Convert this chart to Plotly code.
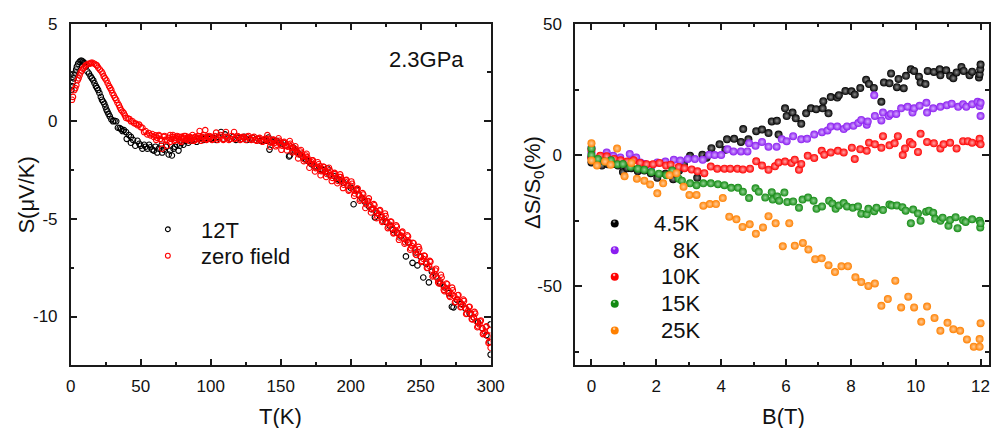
import plotly.graph_objects as go

# ---------------- Left panel: S(T) ----------------
t12_T = [0.5, 0.9, 1.5, 2.1, 2.7, 3.3, 3.9, 4.4, 5.3, 6.3, 7.1, 7.9, 8.8, 9.6, 10.8, 11.9, 13.0, 14.2, 15.1, 16.1,
         17.0, 18.0, 18.8, 19.6, 20.5, 21.5, 22.3, 23.2, 24.0, 24.8, 25.5, 26.2, 27.0, 27.9, 29.0, 30.2, 31.3, 32.5,
         33.7, 35.0, 36.0, 37.0, 38.0, 39.5, 40.0, 41.5, 43.0, 43.0, 44.5, 46.1, 47.7, 49.0, 50.0, 51.2, 52.5, 53.5,
         54.7, 56.0, 57.0, 58.2, 59.4, 60.5, 61.8, 63.0, 64.8, 65.3, 66.5, 68.0, 70.0, 71.0, 72.3, 73.5, 74.5, 75.8,
         77.0, 78.0, 79.3, 80.5, 82.0, 84.0, 86.3, 88.0, 90.0, 91.5, 93.3, 95.0, 96.5, 98.0, 100.0, 102.0, 104.0,
         105.5, 107.4, 109.0, 110.2, 112.0, 114.0, 116.0, 118.0, 120.0, 122.0, 124.0, 126.0, 128.0, 130.0, 132.0,
         134.0, 136.0, 138.0, 140.0, 141.3, 142.0, 144.0, 145.5, 147.1, 149.0, 150.5, 151.8, 153.5, 156.0, 156.5,
         158.8, 160.0, 162.0, 164.0, 166.0, 168.0, 170.0, 172.0, 174.0, 176.0, 178.0, 180.0, 182.0, 183.4, 185.0,
         188.0, 190.0, 192.0, 195.0, 198.0, 200.0, 202.1, 204.4, 206.0, 208.0, 210.0, 213.0, 215.0, 217.3, 219.0,
         222.0, 225.0, 228.0, 230.0, 233.0, 236.0, 239.5, 241.0, 244.2, 246.5, 247.7, 250.0, 251.9, 254.0, 255.9,
         258.0, 261.0, 264.0, 267.0, 270.0, 272.3, 273.5, 276.0, 279.0, 282.0, 285.0, 288.0, 291.0, 294.0, 297.0,
         299.9, 300.0, 300.0]
t12_S = [1.6, 1.8, 2.0, 2.2, 2.35, 2.5, 2.65, 2.8, 2.95, 3.05, 3.1, 3.1, 3.05, 3.0, 2.8, 2.55, 2.45, 2.3, 2.2, 2.1,
         1.95, 1.8, 1.7, 1.6, 1.45, 1.25, 1.1, 1.0, 0.9, 0.75, 0.6, 0.5, 0.38, 0.25, 0.1, 0.0, 0.02, 0.0,
         -0.33, -0.35, -0.4, -0.5, -0.45, -0.55, -0.9, -0.7, -0.8, -1.1, -0.95, -1.25, -1.0, -1.15, -1.25, -1.4, -1.2, -1.3,
         -1.4, -1.2, -1.33, -1.45, -1.5, -1.3, -1.6, -1.4, -1.25, -1.6, -1.45, -1.3, -1.7, -1.5, -1.75, -1.4, -1.3, -1.2,
         -1.5, -1.25, -1.1, -1.2, -1.0, -1.1, -1.0, -0.95, -1.05, -0.9, -0.83, -0.95, -0.85, -0.8, -0.9, -0.85, -0.95,
         -0.8, -0.55, -0.9, -0.67, -0.85, -0.9, -0.8, -0.95, -0.85, -0.9, -0.8, -0.95, -0.9, -0.85, -0.95,
         -0.9, -1.0, -0.95, -1.0, -0.83, -1.45, -1.05, -1.0, -1.0, -1.1, -1.15, -1.1, -1.25, -1.8, -1.75,
         -1.33, -1.5, -1.6, -1.7, -1.85, -1.95, -2.05, -2.2, -2.3, -2.35, -2.45, -2.5, -2.6, -2.42, -2.75,
         -2.8, -2.95, -3.0, -3.15, -3.3, -3.4, -4.25, -3.5, -3.8, -3.95, -4.1, -4.35, -4.5, -4.92, -4.7,
         -4.9, -5.15, -5.35, -5.55, -5.7, -5.9, -6.92, -6.2, -7.25, -6.72, -7.38, -6.95, -8.0, -7.3, -8.25,
         -7.7, -7.95, -8.3, -8.5, -8.8, -9.5, -9.53, -9.15, -9.35, -9.6, -9.85, -10.05, -10.3, -10.6, -10.95,
         -10.4, -11.95, -11.3]

zf_T = [0.9, 1.6, 2.6, 3.3, 4.0, 4.9, 5.6, 6.3, 7.1, 7.9, 8.7, 9.6, 10.5, 11.5, 12.6, 13.8, 14.6, 15.6, 16.8, 18.0,
        18.8, 19.6, 20.8, 22.0, 22.8, 23.6, 24.5, 25.5, 26.4, 27.4, 28.2, 29.0, 29.8, 30.7, 31.6, 32.5, 33.4, 34.4,
        35.2, 36.0, 37.0, 37.9, 38.7, 39.5, 40.7, 41.9, 43.0, 44.2, 45.3, 46.5, 47.7, 48.9, 50.0, 51.2, 52.4, 53.5,
        54.7, 55.8, 57.0, 58.2, 59.4, 60.6, 61.8, 63.0, 64.0, 65.3, 66.5, 67.5, 68.8, 70.0, 71.0, 72.0, 73.0, 74.0,
        75.0, 76.0, 77.0, 78.0, 79.0, 80.0, 81.0, 82.0, 83.0, 84.0, 85.0, 86.0, 87.0, 88.0, 89.0, 90.0, 91.0, 92.1,
        93.0, 94.0, 95.0, 96.1, 97.0, 98.0, 99.0, 100.0, 102.0, 103.9, 105.0, 107.0, 109.0, 110.9, 112.0, 114.0,
        116.7, 118.0, 120.0, 122.0, 124.0, 126.0, 128.0, 130.0, 132.0, 134.0, 136.0, 138.0,
        140.0, 141.0, 142.0, 143.0, 144.0, 145.0, 146.0, 147.0, 148.0, 149.0, 150.0, 151.0, 152.0, 153.0, 154.0,
        155.0, 156.0, 157.0, 158.0, 159.0, 160.0, 161.0, 162.0, 163.0, 164.0, 165.0, 166.0, 167.0, 168.0, 169.0,
        170.0, 171.0, 172.0, 173.0, 174.0, 175.0, 176.0, 177.0, 178.0, 179.0, 180.0, 181.0, 182.0, 183.0, 184.0,
        185.0, 186.0, 187.0, 188.0, 189.0, 190.0, 191.0, 192.0, 193.0, 194.0, 195.0, 196.0, 197.0, 198.0, 199.0,
        200.0, 201.0, 202.0, 203.0, 204.0, 205.0, 206.0, 207.0, 208.0, 209.0, 210.0, 211.0, 212.0, 213.0, 214.0,
        215.0, 216.0, 217.0, 218.0, 219.0, 220.0, 221.0, 222.0, 223.0, 224.0, 225.0, 226.0, 227.0, 228.0, 229.0,
        230.0, 231.0, 232.0, 233.0, 234.0, 235.0, 236.0, 237.0, 238.0, 239.0, 240.0, 241.0, 242.0, 243.0, 244.0,
        245.0, 246.0, 247.0, 248.0, 249.0, 250.0, 251.0, 252.0, 253.0, 254.0, 255.0, 256.0, 257.0, 258.0, 259.0,
        260.0, 261.0, 262.0, 263.0, 264.0, 265.0, 266.0, 267.0, 268.0, 269.0, 270.0, 271.0, 272.0, 273.0, 274.0,
        275.0, 276.0, 277.0, 278.0, 279.0, 280.0, 281.0, 282.0, 283.0, 284.0, 285.0, 286.0, 287.0, 288.0, 289.0,
        290.0, 291.0, 292.0, 293.0, 294.0, 295.0, 296.0, 297.0, 298.0, 299.0, 299.5, 300.0,
        61.0, 63.0, 65.0, 67.0, 69.0, 71.0, 73.0, 75.0, 77.0, 79.0, 81.0, 83.0, 85.0, 87.0, 89.0, 91.0, 93.0, 95.0,
        97.0, 99.0, 101.0, 103.0, 105.0, 107.0, 109.0, 111.0, 113.0, 115.0, 117.0, 119.0, 121.0, 123.0, 125.0,
        127.0, 129.0, 131.0, 133.0, 135.0, 137.0, 139.0,
        140.5, 142.5, 144.5, 146.5, 148.5, 150.5, 152.5, 154.5, 156.5, 158.5, 160.5, 162.5, 164.5, 166.5, 168.5,
        170.5, 172.5, 174.5, 176.5, 178.5, 180.5, 182.5, 184.5, 186.5, 188.5, 190.5, 192.5, 194.5, 196.5, 198.5,
        200.5, 202.5, 204.5, 206.5, 208.5, 210.5, 212.5, 214.5, 216.5, 218.5, 220.5, 222.5, 224.5, 226.5, 228.5,
        230.5, 232.5, 234.5, 236.5, 238.5, 240.5, 242.5, 244.5, 246.5, 248.5, 250.5, 252.5, 254.5, 256.5, 258.5,
        260.5, 262.5, 264.5, 266.5, 268.5, 270.5, 272.5, 274.5, 276.5, 278.5, 280.5, 282.5, 284.5, 286.5, 288.5,
        290.5, 292.5, 294.5, 296.5, 298.5]
zf_S = [1.1, 1.25, 1.6, 1.7, 1.85, 2.1, 2.2, 2.35, 2.5, 2.6, 2.7, 2.75, 2.85, 2.9, 2.95, 2.95, 3.0, 3.0, 2.95, 2.9,
        2.85, 2.75, 2.65, 2.55, 2.45, 2.3, 2.2, 2.1, 1.95, 1.8, 1.7, 1.6, 1.45, 1.33, 1.2, 1.1, 0.95, 0.83,
        0.7, 0.58, 0.5, 0.42, 0.3, 0.17, 0.15, 0.12, 0.0, 0.0, -0.1, -0.12, -0.2, -0.17, -0.3, -0.33, -0.55, -0.5,
        -0.67, -0.6, -0.72, -0.65, -0.8, -0.72, -0.85, -0.75, -0.9, -1.4, -0.8, -0.95, -1.25, -0.85, -0.7, -0.9, -0.8, -1.0,
        -0.85, -0.75, -0.9, -1.0, -0.8, -0.9, -0.85, -0.75, -0.95, -0.85, -0.8, -0.9, -0.85, -1.0, -0.8, -0.9, -0.85, -0.5,
        -0.9, -0.8, -0.85, -0.45, -0.9, -0.8, -0.85, -0.8, -0.9, -0.58, -0.85, -0.8, -0.9, -0.55, -0.85, -0.9,
        -0.55, -0.85, -0.8, -0.9, -0.85, -0.8, -0.9, -0.85, -0.95, -0.9, -0.95, -1.0,
        -0.95, -0.9, -1.05, -1.1, -1.0, -0.95, -1.1, -1.2, -1.05, -1.0, -1.15, -1.25, -1.1, -1.1, -1.25,
        -1.3, -1.2, -1.15, -1.35, -1.5, -1.4, -1.45, -1.6, -1.7, -1.55, -1.65, -1.8, -1.95, -1.75, -1.85,
        -2.0, -2.15, -2.1, -2.0, -2.2, -2.4, -2.35, -2.2, -2.3, -2.55, -2.45, -2.35, -2.55, -2.7, -2.6,
        -2.5, -2.75, -2.9, -2.7, -2.7, -2.9, -3.05, -2.85, -2.85, -3.05, -3.25, -3.1, -3.0, -3.25, -3.5,
        -3.3, -3.2, -3.5, -3.7, -3.55, -3.45, -3.75, -4.0, -3.9, -3.75, -4.05, -4.25, -4.1, -3.95, -4.3,
        -4.5, -4.45, -4.3, -4.6, -4.85, -4.75, -4.55, -4.8, -5.1, -5.0, -4.85, -5.15, -5.4, -5.3, -5.15,
        -5.5, -5.7, -5.6, -5.4, -5.75, -5.95, -5.85, -5.65, -6.0, -6.2, -6.1, -5.9, -6.2, -6.5, -6.4,
        -6.25, -6.55, -6.85, -6.7, -6.55, -6.9, -7.15, -7.05, -6.9, -7.2, -7.5, -7.4, -7.2, -7.6, -7.9,
        -7.85, -7.55, -8.05, -8.3, -8.2, -8.0, -8.4, -8.7, -8.55, -8.35, -8.7, -9.0, -8.85, -8.65, -8.95,
        -9.25, -9.1, -8.9, -9.25, -9.5, -9.4, -9.2, -9.55, -9.85, -9.7, -9.5, -9.85, -10.15, -10.05, -9.85,
        -10.25, -10.5, -10.4, -10.2, -10.6, -10.85, -10.8, -10.5, -11.0, -11.3, -10.7, -11.6,
        -0.95, -0.7, -1.0, -0.75, -0.95, -1.05, -0.7, -0.95, -0.8, -1.05, -0.75, -0.9, -1.0, -0.7, -0.95, -0.75, -1.0, -0.7,
        -0.95, -0.75, -0.95, -0.75, -0.95, -0.7, -0.95, -0.8, -0.95, -0.75, -0.9, -0.75, -0.95, -0.8, -0.95,
        -0.75, -0.95, -0.8, -1.0, -0.85, -1.05, -0.9,
        -0.71, -1.3, -0.94, -1.28, -0.87, -1.46, -1.05, -1.49, -1.01, -1.59, -1.28, -1.9, -1.47, -2.04, -1.66,
        -2.38, -2.0, -2.57, -2.1, -2.76, -2.32, -2.85, -2.38, -3.06, -2.64, -3.17, -2.72, -3.42, -3.02, -3.55,
        -3.08, -3.82, -3.46, -4.07, -3.68, -4.44, -4.08, -4.67, -4.24, -4.96, -4.58, -5.15, -4.72, -5.47, -5.13,
        -5.74, -5.33, -6.07, -5.7, -6.27, -5.84, -6.58, -6.22, -6.82, -6.43, -7.2, -6.88, -7.51, -7.15, -7.95,
        -7.64, -8.25, -7.86, -8.63, -8.31, -8.93, -8.52, -9.26, -8.91, -9.52, -9.13, -9.87, -9.51, -10.13, -9.76,
        -10.55, -10.25, -10.9, -10.55, -11.35]

# ---------------- Right panel: dS/S0 vs B ----------------
b45 = [0.0, 0.0, 0.17, 0.32, 0.5, 0.67, 0.82, 0.97, 1.1, 1.23, 1.43, 1.63, 1.83, 2.03, 2.28, 2.52, 2.7, 2.85, 3.04,
       3.26, 3.42, 3.55, 3.70, 3.95, 4.13, 4.18, 4.4, 4.61, 4.68, 4.84, 5.08, 5.26, 5.46, 5.56, 5.72, 5.77, 5.97,
       6.02, 6.2, 6.3, 6.47, 6.62, 6.77, 6.93, 7.13, 7.15, 7.31, 7.38, 7.58, 7.63, 7.83, 8.02, 8.12, 8.29, 8.47,
       8.56, 8.71, 8.94, 9.02, 9.19, 9.24, 9.42, 9.47, 9.63, 9.7, 9.85, 9.95, 10.1, 10.15, 10.3, 10.37, 10.56,
       10.74, 10.76, 10.94, 11.06, 11.16, 11.26, 11.41, 11.48, 11.66, 11.74, 11.95, 11.97, 11.99, 12.0]
s45 = [-2.8, -1.0, -3.0, -4.0, -3.5, -3.4, -4.0, -6.5, -5.0, -5.0, -6.2, -5.9, -6.9, -8.7, -7.1, -9.2, -6.0, -3.5, -0.3,
       -8.7, 0.1, -1.0, 2.6, 4.1, 2.0, 6.0, 6.2, 5.0, 9.9, 6.0, 9.1, 9.7, 8.4, 12.8, 13.1, 7.8, 17.8,
       14.9, 16.2, 14.0, 11.9, 15.9, 17.8, 17.5, 17.8, 20.5, 15.9, 22.1, 21.9, 22.8, 24.4, 24.3, 23.1, 25.6, 28.7,
       27.1, 25.6, 20.3, 27.7, 27.4, 31.1, 25.9, 29.0, 25.5, 30.2, 32.7, 32.1, 29.9, 27.7, 27.1, 32.1, 31.7,
       32.7, 30.4, 32.3, 30.2, 29.3, 31.5, 33.6, 32.1, 30.4, 31.8, 29.6, 30.8, 32.7, 34.5]

b8 = [0.0, 0.0, 0.0, 0.22, 0.47, 0.67, 0.89, 1.18, 1.38, 1.51, 1.65, 1.83, 2.03, 2.28, 2.54, 2.74, 2.97, 3.19, 3.43,
      3.63, 3.8, 4.0, 4.2, 4.38, 4.61, 4.81, 4.86, 5.06, 5.26, 5.46, 5.71, 5.87, 6.02, 6.22, 6.47, 6.65, 6.87,
      7.11, 7.28, 7.38, 7.58, 7.78, 7.88, 8.08, 8.23, 8.32, 8.49, 8.52, 8.72, 8.74, 8.94, 8.99, 9.17, 9.23, 9.4,
      9.55, 9.75, 9.9, 9.95, 10.12, 10.33, 10.35, 10.54, 10.76, 10.96, 11.11, 11.31, 11.46, 11.56, 11.74, 11.91,
      11.97, 12.0, 12.0]
s8 = [2.8, -0.5, 1.0, -1.8, 1.0, -0.3, -0.9, 0.4, -0.9, -2.8, -3.4, -5.0, -2.8, -2.5, -1.8, -2.1, -1.5, -1.5, -1.8,
      0.1, 0.0, 0.0, 2.2, 1.4, 1.4, 1.4, 4.5, 3.5, 5.0, 3.2, 3.2, 6.0, 5.3, 7.2, 6.0, 6.2, 7.8,
      8.7, 9.4, 10.9, 10.9, 9.9, 10.9, 11.2, 12.2, 13.4, 11.6, 12.8, 22.8, 14.9, 13.2, 16.2, 14.9, 15.7, 15.7,
      17.8, 18.4, 16.2, 17.8, 18.8, 19.9, 16.2, 17.8, 18.4, 19.0, 19.6, 18.4, 19.4, 18.4, 19.4, 20.3,
      18.7, 14.9, 19.9]

b10 = [0.0, 0.0, 0.2, 0.27, 0.47, 0.7, 0.9, 1.1, 1.3, 1.5, 1.7, 1.9, 2.1, 2.3, 2.44, 2.69, 2.87, 3.09, 3.27, 3.48,
       3.68, 3.88, 4.1, 4.28, 4.5, 4.67, 4.89, 5.08, 5.26, 5.46, 5.66, 5.77, 5.97, 6.17, 6.27, 6.4, 6.47, 6.67,
       6.87, 7.1, 7.18, 7.38, 7.6, 7.78, 8.03, 8.12, 8.29, 8.49, 8.56, 8.74, 8.94, 8.99, 9.19, 9.35, 9.45, 9.6,
       9.67, 9.82, 9.9, 10.07, 10.15, 10.35, 10.56, 10.76, 10.86, 11.06, 11.26, 11.46, 11.61, 11.74, 11.95, 11.97,
       12.0]
s10 = [2.0, -1.0, -1.5, -0.3, -0.5, -1.5, -2.0, -2.5, -2.0, -3.0, -3.5, -3.5, -3.0, -4.0, -3.7, -4.6, -5.0, -5.5, -6.2, -6.9,
       -4.4, -5.2, -5.2, -5.2, -5.2, -5.5, -5.2, -2.4, -4.0, -5.6, -4.3, -2.8, -2.5, -3.0, -1.8, -5.6, -3.4, -0.3,
       -1.1, 1.6, 0.1, 1.0, 1.6, 1.0, 2.8, -1.5, 2.2, 1.6, 4.7, 4.1, 2.8, 7.2, 3.7, 4.5, 7.2, 0.0,
       2.5, 5.0, 4.1, 1.2, 8.1, 5.0, 4.5, 2.5, 4.1, 4.7, 2.5, 5.3, 5.3, 4.7, 4.7, 6.2,
       4.1]

b15 = [0.0, 0.0, 0.2, 0.4, 0.6, 0.8, 0.97, 1.2, 1.43, 1.63, 1.85, 2.08, 2.31, 2.49, 2.69, 2.79, 3.04, 3.24, 3.45,
       3.68, 3.9, 4.1, 4.31, 4.52, 4.67, 4.86, 5.06, 5.16, 5.36, 5.56, 5.59, 5.73, 5.79, 5.95, 6.04, 6.22, 6.4,
       6.51, 6.68, 6.85, 6.94, 7.11, 7.33, 7.43, 7.53, 7.63, 7.78, 7.88, 8.06, 8.22, 8.32, 8.49, 8.54, 8.72, 8.79,
       8.99, 9.19, 9.26, 9.42, 9.59, 9.69, 9.85, 9.92, 10.07, 10.15, 10.32, 10.41, 10.54, 10.6, 10.76, 10.83,
       11.01, 11.06, 11.23, 11.29, 11.46, 11.54, 11.74, 11.97, 11.99, 12.0]
s15 = [2.5, 0.0, -1.5, -2.5, -2.0, -3.5, -3.4, -4.5, -5.2, -5.6, -6.5, -7.1, -7.7, -5.9, -9.0, -9.8, -10.8, -11.5, -10.8,
       -10.8, -11.1, -11.5, -12.5, -12.5, -14.0, -16.4, -12.7, -14.0, -16.2, -14.2, -17.0, -15.8, -17.4, -14.3, -17.9, -17.7, -20.1,
       -17.0, -16.2, -17.4, -20.5, -19.6, -17.4, -18.5, -20.5, -19.2, -18.3, -19.6, -20.1, -19.6, -22.4, -22.6, -20.5, -21.4, -20.1,
       -21.0, -18.9, -19.2, -19.2, -19.9, -21.2, -26.0, -20.8, -22.3, -25.1, -21.6, -21.2, -22.0, -24.3, -25.1, -23.9,
       -27.0, -24.8, -23.7, -27.9, -24.9, -25.5, -24.5, -25.1, -27.6, -26.0]

b25 = [0.0, 0.0, 0.17, 0.42, 0.59, 0.79, 1.02, 1.23, 1.40, 1.63, 1.81, 2.03, 2.21, 2.41, 2.62, 2.84, 3.02, 3.24, 3.45,
       3.65, 3.84, 4.05, 4.25, 4.47, 4.66, 4.88, 5.07, 5.29, 5.46, 5.68, 5.9, 6.10, 6.27, 6.52, 6.69, 6.9, 7.10,
       7.31, 7.51, 7.71, 7.91, 8.14, 8.32, 8.54, 8.74, 8.94, 9.14, 9.37, 9.55, 9.77, 9.95, 10.17, 10.35, 10.58,
       10.76, 10.98, 11.16, 11.37, 11.58, 11.79, 11.97, 11.97, 12.0]
s25 = [4.5, -2.1, -4.0, -2.5, -3.7, 2.5, -8.1, -3.0, -9.0, -9.8, -11.2, -14.6, -10.8, -7.7, -6.9, -12.1, -15.2, -15.2, -19.3,
       -18.7, -18.7, -16.4, -23.5, -24.5, -27.4, -26.4, -30.0, -27.6, -23.3, -26.0, -34.8, -26.0, -34.6, -33.5, -36.0, -39.7, -39.4,
       -42.0, -44.6, -42.4, -42.4, -46.6, -48.4, -49.9, -49.0, -57.5, -54.9, -47.9, -58.1, -54.0, -58.1, -63.6, -57.8, -62.1,
       -67.0, -64.0, -66.4, -67.0, -70.3, -73.1, -73.1, -70.2, -64.1]

right_series = [("4.5K", b45, s45, "#000000", "#8c8c8c"),
                ("8K", b8, s8, "#8B1EF0", "#D4A8FF"),
                ("10K", b10, s10, "#FF0000", "#FFA8A8"),
                ("15K", b15, s15, "#138A13", "#94D494"),
                ("25K", b25, s25, "#FF8000", "#FFCC99")]

FONT = "Liberation Sans, Arial, sans-serif"
W, H = 1003, 428
def px(x):
    return x / W
def py(y):
    return 1 - y / H

fig = go.Figure()
fig.add_trace(go.Scatter(x=t12_T, y=t12_S, mode="markers", name="12T",
                         marker=dict(symbol="circle-open", size=5.5, color="#000000", line=dict(width=1.1)),
                         xaxis="x", yaxis="y", showlegend=False))
fig.add_trace(go.Scatter(x=zf_T, y=zf_S, mode="markers", name="zero field",
                         marker=dict(symbol="circle-open", size=5.5, color="#FF0000", line=dict(width=1.1)),
                         xaxis="x", yaxis="y", showlegend=False))
for name, bx, sy, col, hi in right_series:
    fig.add_trace(go.Scatter(x=bx, y=sy, mode="markers", name=name,
                             marker=dict(symbol="circle", size=8, color=col, line=dict(width=0),
                                         gradient=dict(type="radial", color=hi)),
                             xaxis="x2", yaxis="y2", showlegend=False))

LC = "#1a1a1a"
axis_common = dict(showline=True, linecolor=LC, linewidth=1.5, mirror="allticks",
                   ticks="inside", ticklen=7, tickwidth=1.5, tickcolor=LC,
                   showgrid=False, zeroline=False,
                   tickfont=dict(family=FONT, size=17, color="#111111"))
def minor(d):
    return dict(dtick=d, ticks="inside", ticklen=4, tickwidth=1.5, tickcolor=LC)

alias = {"\u22125": "-5", "\u221210": "-10", "\u221250": "-50"}

fig.update_layout(
    width=W, height=H, margin=dict(l=0, r=0, t=0, b=0),
    paper_bgcolor="white", plot_bgcolor="white",
    xaxis=dict(domain=[px(67), px(495)], range=[0, 300], tick0=0, dtick=50, minor=minor(25),
               ticklabelstandoff=5, anchor="y", **axis_common),
    yaxis=dict(domain=[py(364), py(15)], range=[-12.5, 5], tick0=0, dtick=5, minor=minor(2.5),
               ticklabelstandoff=8, anchor="x", labelalias=alias, **axis_common),
    xaxis2=dict(domain=[px(581), 1.0], range=[-0.508, 12.26], tick0=0, dtick=2, minor=minor(1),
                ticklabelstandoff=5, anchor="y2", **axis_common),
    yaxis2=dict(domain=[py(364), py(15)], range=[-80.2, 50.1], tick0=0, dtick=50, minor=minor(25),
                ticklabelstandoff=8, anchor="x2", labelalias=alias, **axis_common),
)

ann = []
tf = dict(family=FONT, size=22, color="#111111")
ann.append(dict(text="T(K)", x=px(281), y=py(416), xref="paper", yref="paper",
                xanchor="center", yanchor="middle", showarrow=False, font=tf))
ann.append(dict(text="B(T)", x=px(794), y=py(416), xref="paper", yref="paper",
                xanchor="center", yanchor="middle", showarrow=False, font=tf))
ann.append(dict(text="S(\u03bcV/K)", x=px(21), y=py(190), xref="paper", yref="paper", textangle=-90,
                xanchor="center", yanchor="middle", showarrow=False, font=tf))
ann.append(dict(text="\u0394S/S<sub>0</sub>(%)", x=px(539), y=py(177), xref="paper", yref="paper", textangle=-90,
                xanchor="center", yanchor="middle", showarrow=False, font=tf))
ann.append(dict(text="2.3GPa", x=px(389), y=py(52), xref="paper", yref="paper",
                xanchor="left", yanchor="middle", showarrow=False, font=tf))

shapes = []
left_leg = [("12T", "#000000", 226), ("zero field", "#FF0000", 253)]
for lab, col, yy in left_leg:
    ann.append(dict(text=lab, x=px(198), y=py(yy), xref="paper", yref="paper",
                    xanchor="left", yanchor="middle", showarrow=False, font=tf))
    shapes.append(dict(type="circle", xref="paper", yref="paper", xsizemode="pixel", ysizemode="pixel",
                       xanchor=px(166), yanchor=py(yy - 1), x0=-2.4, x1=2.4, y0=-2.4, y1=2.4,
                       line=dict(color=col, width=1.1), fillcolor="rgba(0,0,0,0)"))

right_rows = [219, 246.5, 273.5, 301, 328.5]
for (name, bx, sy, col, hi), yy in zip(right_series, right_rows):
    ann.append(dict(text=name, x=px(710), y=py(yy), xref="paper", yref="paper",
                    xanchor="right", yanchor="middle", showarrow=False, font=tf))
    shapes.append(dict(type="circle", xref="paper", yref="paper", xsizemode="pixel", ysizemode="pixel",
                       xanchor=px(621.5), yanchor=py(yy), x0=-4, x1=4, y0=-4, y1=4,
                       line=dict(width=0), fillcolor=col))
    shapes.append(dict(type="circle", xref="paper", yref="paper", xsizemode="pixel", ysizemode="pixel",
                       xanchor=px(621.5), yanchor=py(yy), x0=-1.8, x1=0.6, y0=0.6, y1=3.0,
                       line=dict(width=0), fillcolor=hi))

fig.update_layout(annotations=ann, shapes=shapes)
fig.write_html("out.html")
